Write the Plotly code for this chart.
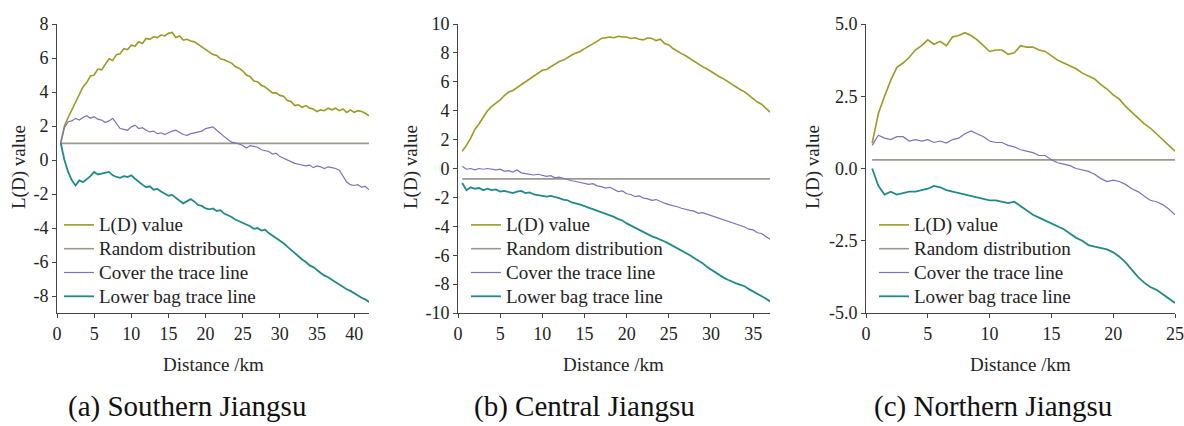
import plotly.graph_objects as go

SERIES_NAMES = ["L(D) value", "Random distribution", "Cover the trace line", "Lower bag trace line"]
COLORS = ["#9b9a25", "#9c9890", "#7d70bd", "#21898b"]
WIDTHS = [1.6, 1.6, 1.2, 1.8]

# ---------------- (a) Southern Jiangsu ----------------
DIST_A = [0.5, 1.0, 1.5, 2.0, 2.5, 3.0, 3.5, 4.0, 4.5, 5.0, 5.5, 6.0, 6.5, 7.0, 7.5, 8.0, 8.5, 9.0, 9.5, 10.0,
          10.5, 11.0, 11.5, 12.0, 12.5, 13.0, 13.5, 14.0, 14.5, 15.0, 15.5, 16.0, 16.5, 17.0, 17.5, 18.0, 18.5, 19.0, 19.5, 20.0,
          20.5, 21.0, 21.5, 22.0, 22.5, 23.0, 23.5, 24.0, 24.5, 25.0, 25.5, 26.0, 26.5, 27.0, 27.5, 28.0, 28.5, 29.0, 29.5, 30.0,
          30.5, 31.0, 31.5, 32.0, 32.5, 33.0, 33.5, 34.0, 34.5, 35.0, 35.5, 36.0, 36.5, 37.0, 37.5, 38.0, 38.5, 39.0, 39.5, 40.0,
          40.5, 41.0, 41.5, 42.0]
LD_A = [1.0, 2.0, 2.5, 2.95, 3.35, 3.9, 4.3, 4.55, 4.95, 5.0, 5.35, 5.3, 5.6, 5.95, 5.85, 6.2, 6.25, 6.55, 6.5, 6.75,
        6.7, 6.95, 6.85, 7.15, 7.1, 7.25, 7.2, 7.35, 7.3, 7.45, 7.5, 7.2, 7.3, 7.05, 7.1, 7.0, 6.95, 6.8, 6.7, 6.55,
        6.4, 6.2, 6.15, 5.95, 5.9, 5.8, 5.7, 5.5, 5.4, 5.25, 5.0, 4.9, 4.65, 4.6, 4.4, 4.3, 4.1, 3.95, 3.95, 3.8,
        3.75, 3.5, 3.45, 3.2, 3.25, 3.1, 3.2, 3.05, 3.0, 2.85, 2.95, 2.9, 3.05, 2.95, 3.05, 2.9, 3.0, 2.8, 2.95, 2.8,
        2.9, 2.85, 2.75, 2.6]
RAND_A = [0.98] * 84
COVER_A = [1.0, 1.9, 2.25, 2.3, 2.45, 2.35, 2.5, 2.6, 2.45, 2.55, 2.4, 2.35, 2.2, 2.3, 2.45, 2.15, 1.85, 1.8, 1.75, 1.95,
           2.05, 1.85, 1.9, 1.75, 1.65, 1.7, 1.55, 1.6, 1.5, 1.6, 1.7, 1.75, 1.6, 1.5, 1.45, 1.55, 1.6, 1.65, 1.7, 1.85,
           1.9, 1.95, 1.75, 1.55, 1.35, 1.2, 1.05, 1.0, 0.95, 0.85, 0.7, 0.85, 0.8, 0.75, 0.6, 0.55, 0.5, 0.35, 0.4, 0.2,
           0.1, 0.0, -0.1, -0.2, -0.25, -0.3, -0.35, -0.3, -0.45, -0.35, -0.4, -0.5, -0.4, -0.45, -0.5, -0.6, -0.95, -1.3, -1.45, -1.5,
           -1.45, -1.6, -1.55, -1.75]
LOWER_A = [1.0, 0.0, -0.7, -1.2, -1.5, -1.2, -1.3, -1.15, -0.95, -0.7, -0.85, -0.8, -0.75, -0.7, -0.9, -1.0, -1.05, -0.95, -1.0, -0.9,
           -1.1, -1.3, -1.45, -1.6, -1.55, -1.75, -1.7, -1.85, -2.0, -2.1, -2.05, -2.25, -2.4, -2.55, -2.4, -2.3, -2.45, -2.65, -2.7, -2.85,
           -2.9, -2.85, -3.0, -2.95, -3.15, -3.25, -3.35, -3.5, -3.6, -3.7, -3.8, -3.9, -4.05, -4.0, -4.15, -4.1, -4.3, -4.45, -4.55, -4.7,
           -4.9, -5.1, -5.3, -5.5, -5.65, -5.85, -6.0, -6.2, -6.3, -6.5, -6.65, -6.8, -6.9, -7.05, -7.2, -7.35, -7.45, -7.6, -7.7, -7.85,
           -7.95, -8.1, -8.2, -8.35]

# ---------------- (b) Central Jiangsu ----------------
DIST_B = [0.5, 1.0, 1.5, 2.0, 2.5, 3.0, 3.5, 4.0, 4.5, 5.0, 5.5, 6.0, 6.5, 7.0, 7.5, 8.0, 8.5, 9.0, 9.5, 10.0,
          10.5, 11.0, 11.5, 12.0, 12.5, 13.0, 13.5, 14.0, 14.5, 15.0, 15.5, 16.0, 16.5, 17.0, 17.5, 18.0, 18.5, 19.0, 19.5, 20.0,
          20.5, 21.0, 21.5, 22.0, 22.5, 23.0, 23.5, 24.0, 24.5, 25.0, 25.5, 26.0, 26.5, 27.0, 27.5, 28.0, 28.5, 29.0, 29.5, 30.0,
          30.5, 31.0, 31.5, 32.0, 32.5, 33.0, 33.5, 34.0, 34.5, 35.0, 35.5, 36.0, 36.5, 37.0]
LD_B = [1.2, 1.6, 2.1, 2.7, 3.1, 3.6, 4.0, 4.3, 4.5, 4.75, 5.05, 5.3, 5.4, 5.6, 5.8, 6.0, 6.15, 6.35, 6.55, 6.8,
        6.85, 7.05, 7.2, 7.4, 7.5, 7.7, 7.85, 8.0, 8.1, 8.3, 8.45, 8.65, 8.8, 9.0, 9.05, 9.1, 9.05, 9.15, 9.1, 9.1,
        9.0, 9.05, 8.95, 8.9, 9.05, 9.0, 8.85, 8.95, 8.65, 8.55, 8.3, 8.1, 7.95, 7.8, 7.6, 7.4, 7.25, 7.05, 6.9, 6.7,
        6.55, 6.35, 6.2, 6.0, 5.8, 5.65, 5.45, 5.3, 5.05, 4.85, 4.6, 4.45, 4.2, 3.9]
RAND_B = [-0.72] * 74
COVER_B = [0.15, -0.05, 0.0, -0.1, 0.0, -0.05, 0.0, -0.05, -0.1, -0.05, -0.2, -0.15, -0.25, -0.1, -0.3, -0.35, -0.4, -0.45, -0.4, -0.5,
           -0.55, -0.5, -0.65, -0.6, -0.7, -0.8, -0.85, -0.9, -0.95, -1.0, -1.1, -1.05, -1.2, -1.25, -1.35, -1.3, -1.45, -1.6, -1.55, -1.75,
           -1.8, -1.95, -1.9, -2.05, -2.1, -2.2, -2.15, -2.3, -2.4, -2.5, -2.55, -2.65, -2.75, -2.85, -2.9, -2.95, -3.1, -3.05, -3.15, -3.25,
           -3.35, -3.45, -3.55, -3.6, -3.7, -3.8, -3.95, -4.05, -4.2, -4.25, -4.45, -4.5, -4.7, -4.9]
LOWER_B = [-1.0, -1.5, -1.3, -1.4, -1.35, -1.5, -1.4, -1.5, -1.45, -1.6, -1.55, -1.6, -1.7, -1.6, -1.55, -1.7, -1.65, -1.8, -1.85, -1.85,
           -1.95, -1.9, -1.95, -2.05, -2.15, -2.2, -2.35, -2.4, -2.5, -2.6, -2.7, -2.85, -2.9, -3.0, -3.1, -3.2, -3.35, -3.5, -3.6, -3.8,
           -3.95, -4.1, -4.3, -4.45, -4.55, -4.7, -4.8, -4.9, -5.05, -5.2, -5.35, -5.5, -5.65, -5.85, -6.0, -6.2, -6.35, -6.55, -6.8, -7.0,
           -7.2, -7.35, -7.55, -7.7, -7.85, -7.95, -8.05, -8.15, -8.35, -8.5, -8.65, -8.85, -9.0, -9.2]

# ---------------- (c) Northern Jiangsu ----------------
DIST_C = [0.5, 1.0, 1.5, 2.0, 2.5, 3.0, 3.5, 4.0, 4.5, 5.0, 5.5, 6.0, 6.5, 7.0, 7.5, 8.0, 8.5, 9.0, 9.5, 10.0,
          10.5, 11.0, 11.5, 12.0, 12.5, 13.0, 13.5, 14.0, 14.5, 15.0, 15.5, 16.0, 16.5, 17.0, 17.5, 18.0, 18.5, 19.0, 19.5, 20.0,
          20.5, 21.0, 21.5, 22.0, 22.5, 23.0, 23.5, 24.0, 24.5, 25.0]
LD_C = [0.88, 1.9, 2.5, 3.05, 3.5, 3.65, 3.85, 4.1, 4.25, 4.45, 4.3, 4.4, 4.25, 4.55, 4.6, 4.7, 4.6, 4.45, 4.25, 4.05,
        4.1, 4.1, 3.95, 4.0, 4.25, 4.2, 4.2, 4.1, 4.05, 3.9, 3.75, 3.65, 3.55, 3.45, 3.3, 3.2, 3.1, 2.9, 2.75, 2.55,
        2.4, 2.15, 1.95, 1.75, 1.55, 1.4, 1.2, 1.0, 0.8, 0.6]
RAND_C = [0.3] * 50
COVER_C = [0.8, 1.15, 1.05, 1.0, 1.1, 1.1, 0.95, 1.0, 0.95, 1.0, 0.9, 0.95, 0.88, 1.0, 1.05, 1.2, 1.3, 1.2, 1.1, 0.95,
           0.9, 0.9, 0.8, 0.75, 0.65, 0.6, 0.55, 0.45, 0.45, 0.3, 0.2, 0.15, 0.1, 0.0, -0.05, -0.1, -0.2, -0.35, -0.45, -0.4,
           -0.45, -0.55, -0.7, -0.8, -0.95, -1.1, -1.15, -1.25, -1.4, -1.6]
LOWER_C = [0.0, -0.6, -0.9, -0.8, -0.9, -0.85, -0.8, -0.8, -0.75, -0.7, -0.6, -0.65, -0.75, -0.8, -0.85, -0.9, -0.95, -1.0, -1.05, -1.1,
           -1.1, -1.15, -1.2, -1.15, -1.3, -1.45, -1.6, -1.7, -1.8, -1.9, -2.0, -2.1, -2.25, -2.4, -2.5, -2.65, -2.7, -2.75, -2.8, -2.9,
           -3.05, -3.25, -3.5, -3.75, -3.95, -4.1, -4.2, -4.35, -4.5, -4.65]

X_TICKS_A = [0, 5, 10, 15, 20, 25, 30, 35, 40]
X_TICKS_B = [0, 5, 10, 15, 20, 25, 30, 35]
X_TICKS_C = [0, 5, 10, 15, 20, 25]
Y_TICKS_A = [8, 6, 4, 2, 0, -2, -4, -6, -8]
Y_LABELS_A = ["8", "6", "4", "2", "0", "-2", "-4", "-6", "-8"]
Y_TICKS_B = [10, 8, 6, 4, 2, 0, -2, -4, -6, -8, -10]
Y_LABELS_B = ["10", "8", "6", "4", "2", "0", "-2", "-4", "-6", "-8", "-10"]
Y_TICKS_C = [5.0, 2.5, 0.0, -2.5, -5.0]
Y_LABELS_C = ["5.0", "2.5", "0.0", "-2.5", "-5.0"]
CAPTIONS = ["(a) Southern Jiangsu", "(b) Central Jiangsu", "(c) Northern Jiangsu"]
X_TITLE = "Distance /km"
Y_TITLE = "L(D) value"

W, H = 1184, 426
FONT = "Liberation Serif"
TXT = "#222222"

panels = [
    dict(dist=DIST_A, ys=[LD_A, RAND_A, COVER_A, LOWER_A], xr=[0, 42], yr=[-9, 8], xt=X_TICKS_A, yt=Y_TICKS_A,
         yl=Y_LABELS_A, px=(57, 369), ytitle_x=19, legx=59, cap_x=187),
    dict(dist=DIST_B, ys=[LD_B, RAND_B, COVER_B, LOWER_B], xr=[0, 37], yr=[-10, 10], xt=X_TICKS_B, yt=Y_TICKS_B,
         yl=Y_LABELS_B, px=(458, 770), ytitle_x=411, legx=466, cap_x=584),
    dict(dist=DIST_C, ys=[LD_C, RAND_C, COVER_C, LOWER_C], xr=[0, 25], yr=[-5, 5], xt=X_TICKS_C, yt=Y_TICKS_C,
         yl=Y_LABELS_C, px=(866, 1175), ytitle_x=813, legx=874, cap_x=993),
]

top_px, bot_px = 24, 313
ydom = [(H - bot_px) / H, (H - top_px) / H]

fig = go.Figure()
annotations = []
layout_extra = {}
for i, p in enumerate(panels):
    k = "" if i == 0 else str(i + 1)
    legname = "legend" if i == 0 else "legend" + str(i + 1)
    for j in range(4):
        fig.add_trace(go.Scatter(
            x=p["dist"], y=p["ys"][j], mode="lines",
            name='<span style="font-size:19px">' + SERIES_NAMES[j] + '</span>',
            line=dict(color=COLORS[j], width=WIDTHS[j]),
            xaxis="x" + k, yaxis="y" + k, legend=legname, showlegend=True))
    axis_common = dict(showline=True, linecolor="#444444", linewidth=1, ticks="outside", ticklen=4,
                       tickcolor="#444444", showgrid=False, zeroline=False, automargin=False,
                       tickfont=dict(family=FONT, size=18, color=TXT))
    layout_extra["xaxis" + k] = dict(domain=[p["px"][0] / W, p["px"][1] / W], range=p["xr"],
                                    tickvals=p["xt"], ticktext=[str(v) for v in p["xt"]],
                                    anchor="y" + k, **axis_common)
    layout_extra["yaxis" + k] = dict(domain=ydom, range=p["yr"], tickvals=p["yt"], ticktext=p["yl"],
                                    anchor="x" + k, **axis_common)
    layout_extra[legname] = dict(x=p["legx"] / W, xanchor="left", y=(H - 208) / H, yanchor="top",
                                 bgcolor="rgba(0,0,0,0)", font=dict(family=FONT, size=16, color=TXT),
                                 tracegroupgap=0, itemwidth=30)
    annotations.append(dict(text=Y_TITLE, x=p["ytitle_x"] / W, y=(H - 167) / H, xref="paper", yref="paper",
                            xanchor="center", yanchor="middle",
                            textangle=-90, showarrow=False, font=dict(family=FONT, size=19, color=TXT)))
    annotations.append(dict(text=X_TITLE, x=(p["px"][0] + p["px"][1]) / 2 / W, y=(H - 364) / H,
                            xref="paper", yref="paper", showarrow=False, xanchor="center", yanchor="middle",
                            font=dict(family=FONT, size=19, color=TXT)))
    annotations.append(dict(text=CAPTIONS[i], x=p["cap_x"] / W, y=(H - 406) / H,
                            xref="paper", yref="paper", showarrow=False, xanchor="center", yanchor="middle",
                            font=dict(family=FONT, size=29, color="#111111")))

fig.update_layout(width=W, height=H, margin=dict(l=0, r=0, t=0, b=0),
                  paper_bgcolor="white", plot_bgcolor="white", annotations=annotations,
                  **layout_extra)
fig.write_html("out.html", config={"displayModeBar": False},
               post_script="document.body.style.margin='0';document.body.style.overflow='hidden';")
